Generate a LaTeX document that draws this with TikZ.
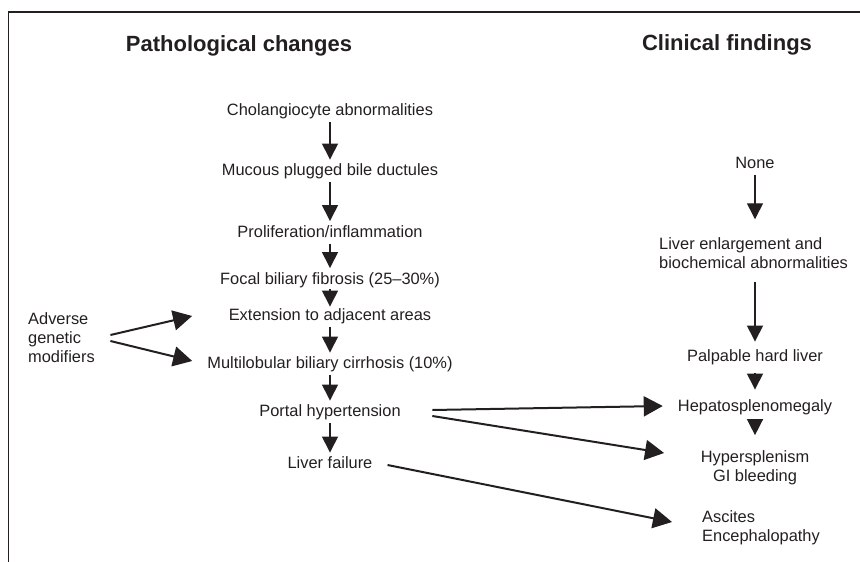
\documentclass[tikz,border=0pt]{standalone}
\usepackage{fontspec}
\setmainfont{Liberation Sans}
\usetikzlibrary{arrows.meta,positioning}
\definecolor{ink}{HTML}{231F20}

\begin{document}
\begin{tikzpicture}[x=1pt,y=-1pt,color=ink,
  txt/.style={font=\fontsize{16.4}{19}\selectfont,inner sep=0pt,text height=12pt,text depth=3.5pt},
  txtml/.style={font=\fontsize{16.4}{19}\selectfont,inner sep=0pt},
  heading/.style={font=\fontsize{22}{26}\selectfont\bfseries,inner sep=0pt},
  stepar/.style={-{Triangle[width=16pt,length=16pt]},line width=1.4pt,shorten <=3pt,shorten >=4pt},
  longar/.style={-{Triangle[width=20pt,length=19pt]},line width=2pt}]
  \useasboundingbox (0,0) rectangle (860,562);
  % frame (top and left edges only)
  \draw[line width=1.5pt] (860,12) -- (8.5,12) -- (8.5,562);
  % column headings
  \node[heading] (pathhead) at (239,46) {Pathological changes};
  \node[heading] (clinhead) at (727,45) {Clinical findings};
  % pathological changes
  \node[txt] (chol) at (330,111.5) {Cholangiocyte abnormalities};
  \node[txt] (mucous) at (330,171.5) {Mucous plugged bile ductules};
  \node[txt] (prolif) at (330,233) {Proliferation/inflammation};
  \node[txt] (focal) at (330,280) {Focal biliary fibrosis (25--30\%)};
  \node[txt] (ext) at (330,316.5) {Extension to adjacent areas};
  \node[txt] (multi) at (330,364.5) {Multilobular biliary cirrhosis (10\%)};
  \node[txt] (portal) at (330,412.5) {Portal hypertension};
  \node[txt] (failure) at (330,464.5) {Liver failure};
  \draw[stepar] (chol) -- (mucous);
  \draw[stepar] (mucous) -- (prolif);
  \draw[stepar] (prolif) -- (focal);
  \draw[stepar,shorten <=1.5pt,shorten >=2pt] (focal) -- (ext);
  \draw[stepar] (ext) -- (multi);
  \draw[stepar] (multi) -- (portal);
  \draw[stepar] (portal) -- (failure);
  % modifiers
  \node[txtml,anchor=west,align=left] (adverse) at (28,338) {Adverse\\genetic\\modifiers};
  \draw[longar] ([xshift=15.5pt,yshift=3pt]adverse.east) -- ([xshift=-36.5pt,yshift=0.5pt]ext.west);
  \draw[longar] ([xshift=15.5pt,yshift=-3pt]adverse.east) -- ([xshift=-15pt,yshift=3.5pt]multi.west);
  % clinical findings
  \node[txt] (none) at (755,164.5) {None};
  \node[txtml,anchor=west,align=left] (enlarge) at (659,253) {Liver enlargement and\\biochemical abnormalities};
  \node[txt] (palp) at (755,357.5) {Palpable hard liver};
  \node[txt] (hepato) at (755,407.5) {Hepatosplenomegaly};
  \node[txtml,align=center] (hyper) at (755,467.5) {Hypersplenism\\GI bleeding};
  \node[txtml,anchor=west,align=left] (ascites) at (702,527.5) {Ascites\\Encephalopathy};
  \draw[stepar,shorten >=18pt] (none) -- (none |- enlarge.north);
  \draw[stepar,shorten <=13pt,shorten >=8pt] (palp |- enlarge.south) -- (palp);
  \draw[stepar,shorten <=8pt,shorten >=10pt] (palp) -- (hepato);
  \draw[stepar,shorten <=5pt,shorten >=15pt] (hepato) -- (hepato |- hyper.north);
  % links across
  \draw[longar] ([xshift=31.5pt,yshift=2.5pt]portal.east) -- ([xshift=-15pt,yshift=1.5pt]hepato.west);
  \draw[longar] ([xshift=31.5pt,yshift=-3.5pt]portal.east) -- ([xshift=-36.5pt,yshift=14.5pt]hyper.west);
  \draw[longar] ([xshift=15pt,yshift=-0.5pt]failure.east) -- ([xshift=-30pt,yshift=5.5pt]ascites.west);
\end{tikzpicture}
\end{document}
